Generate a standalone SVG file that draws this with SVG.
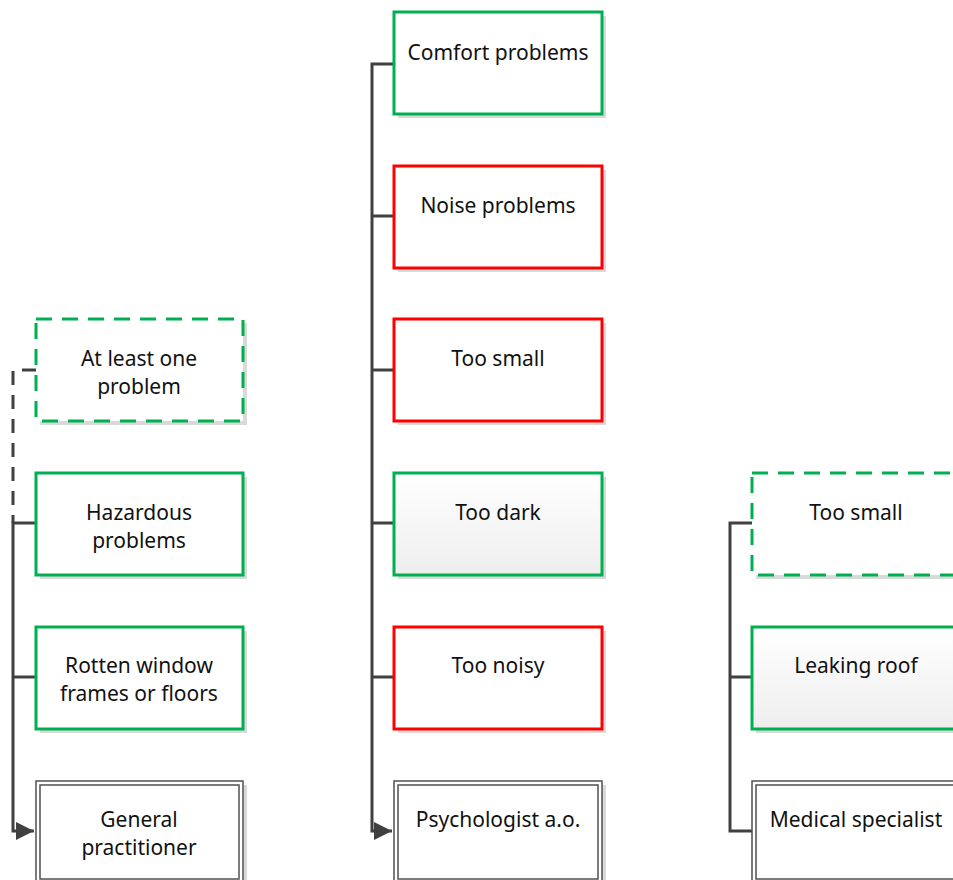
<svg xmlns="http://www.w3.org/2000/svg" width="953" height="880" viewBox="0 0 953 880">
<style>
.sh{fill:#d9d9d9}
.box{fill:#ffffff;stroke-width:3}
.g{stroke:#00b050}
.r{stroke:#ff0000}
.d{stroke-dasharray:16 10}
.grad{fill:url(#lg)}
.dbl{fill:#ffffff;stroke:#505050;stroke-width:1.5}
.t{font-family:"Noto Sans","Open Sans",sans-serif;font-size:21px;fill:#111111;text-anchor:middle}
.c{fill:none;stroke:#404040;stroke-width:3}
</style>
<defs>
<linearGradient id="lg" x1="0" y1="0" x2="0" y2="1">
<stop offset="0" stop-color="#ffffff"/>
<stop offset="1" stop-color="#eeeeee"/>
</linearGradient>
<marker id="ar" viewBox="0 0 10 10" refX="10" refY="5" markerWidth="7" markerHeight="6" markerUnits="strokeWidth" orient="auto">
<path d="M0,0 L10,5 L0,10 Z" fill="#404040"/>
</marker>
</defs>
<rect width="953" height="880" fill="#ffffff"/>
<g id="connectors">
<path class="c" d="M36,370 H13 V523" stroke-dasharray="14 10"/>
<path class="c" d="M36,523 H13 V831 H34" marker-end="url(#ar)"/>
<path class="c" d="M13,677 H36"/>
<path class="c" d="M394,64 H372 V831 H392" marker-end="url(#ar)"/>
<path class="c" d="M372,216 H394 M372,370 H394 M372,523 H394 M372,677 H394"/>
<path class="c" d="M752,523 H730 V831 H752 M730,677 H752"/>
</g>
<g id="n-atleast">
<rect class="sh" x="40" y="323" width="207" height="102"/>
<rect class="box g d" x="36" y="319" width="207" height="102"/>
<text class="t" x="139" y="366">At least one</text>
<text class="t" x="139" y="394">problem</text>
</g>
<g id="n-hazard">
<rect class="sh" x="40" y="477" width="207" height="102"/>
<rect class="box g" x="36" y="473" width="207" height="102"/>
<text class="t" x="139" y="520">Hazardous</text>
<text class="t" x="139" y="548">problems</text>
</g>
<g id="n-rotten">
<rect class="sh" x="40" y="631" width="207" height="102"/>
<rect class="box g" x="36" y="627" width="207" height="102"/>
<text class="t" x="139" y="673">Rotten window</text>
<text class="t" x="139" y="701">frames or floors</text>
</g>
<g id="n-gp">
<rect class="sh" x="40" y="785" width="207" height="102"/>
<rect class="dbl" x="36" y="781" width="207" height="102"/>
<rect class="dbl" x="40" y="785" width="199" height="94"/>
<text class="t" x="139" y="827">General</text>
<text class="t" x="139" y="855">practitioner</text>
</g>
<g id="n-comfort">
<rect class="sh" x="398" y="16" width="208" height="102"/>
<rect class="box g" x="394" y="12" width="208" height="102"/>
<text class="t" x="498" y="60">Comfort problems</text>
</g>
<g id="n-noise">
<rect class="sh" x="398" y="170" width="208" height="102"/>
<rect class="box r" x="394" y="166" width="208" height="102"/>
<text class="t" x="498" y="213">Noise problems</text>
</g>
<g id="n-toosmall">
<rect class="sh" x="398" y="323" width="208" height="102"/>
<rect class="box r" x="394" y="319" width="208" height="102"/>
<text class="t" x="498" y="366">Too small</text>
</g>
<g id="n-toodark">
<rect class="sh" x="398" y="477" width="208" height="102"/>
<rect class="box g grad" x="394" y="473" width="208" height="102"/>
<text class="t" x="498" y="520">Too dark</text>
</g>
<g id="n-toonoisy">
<rect class="sh" x="398" y="631" width="208" height="102"/>
<rect class="box r" x="394" y="627" width="208" height="102"/>
<text class="t" x="498" y="673">Too noisy</text>
</g>
<g id="n-psych">
<rect class="sh" x="398" y="785" width="208" height="102"/>
<rect class="dbl" x="394" y="781" width="208" height="102"/>
<rect class="dbl" x="398" y="785" width="200" height="94"/>
<text class="t" x="498" y="827">Psychologist a.o.</text>
</g>
<g id="n-toosmall2">
<rect class="sh" x="756" y="477" width="207" height="102"/>
<rect class="box g d" x="752" y="473" width="207" height="102"/>
<text class="t" x="856" y="520">Too small</text>
</g>
<g id="n-roof">
<rect class="sh" x="756" y="631" width="207" height="102"/>
<rect class="box g grad" x="752" y="627" width="207" height="102"/>
<text class="t" x="856" y="673">Leaking roof</text>
</g>
<g id="n-medspec">
<rect class="sh" x="756" y="785" width="207" height="102"/>
<rect class="dbl" x="752" y="781" width="207" height="102"/>
<rect class="dbl" x="756" y="785" width="199" height="94"/>
<text class="t" x="856" y="827">Medical specialist</text>
</g>
</svg>
